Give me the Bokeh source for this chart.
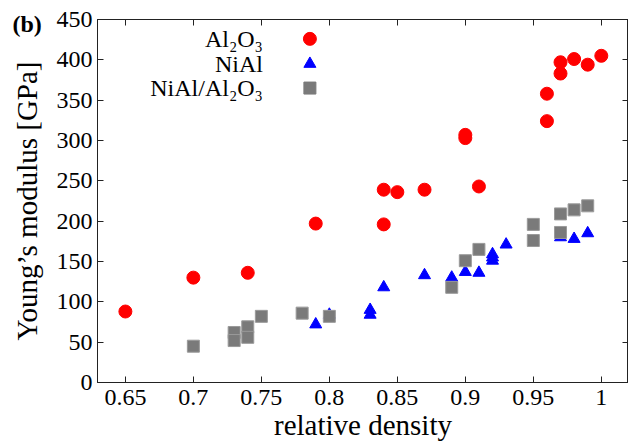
from bokeh.plotting import figure
from bokeh.models import LinearAxis, FixedTicker, Range1d, Label, Title
from bokeh.embed import file_html
from bokeh.resources import INLINE

# ---- data ----
al2o3_density = [0.65, 0.70, 0.74, 0.79, 0.84, 0.84, 0.85, 0.87, 0.90, 0.90, 0.91,
                 0.96, 0.96, 0.97, 0.97, 0.98, 0.99, 1.00]
al2o3_modulus = [88, 130, 136, 197, 239, 196, 236, 239, 307, 303, 243,
                 358, 324, 397, 383, 401, 394, 405]

nial_density = [0.79, 0.80, 0.83, 0.83, 0.84, 0.87, 0.89, 0.90, 0.91, 0.92, 0.92, 0.92,
                0.93, 0.97, 0.98, 0.99]
nial_modulus = [72, 84, 90, 84, 118, 133, 130, 137, 136, 159, 155, 151,
                171, 180, 178, 185]

comp_density = [0.70, 0.73, 0.73, 0.74, 0.74, 0.75, 0.78, 0.80, 0.89, 0.90, 0.91,
                0.95, 0.95, 0.97, 0.97, 0.98, 0.99]
comp_modulus = [45, 62, 52, 69, 56, 82, 86, 82, 118, 151, 165,
                196, 176, 209, 186, 214, 219]

x_ticks = [0.65, 0.70, 0.75, 0.80, 0.85, 0.90, 0.95, 1.00]
x_tick_labels = ["0.65", "0.7", "0.75", "0.8", "0.85", "0.9", "0.95", "1"]
y_ticks = [0, 50, 100, 150, 200, 250, 300, 350, 400, 450]

series_names = ["Al\u2082O\u2083", "NiAl", "NiAl/Al\u2082O\u2083"]
series_colors = ["#ff0000", "#0000ff", "#7a7a7a"]

FONT = "Liberation Serif"
AXIS_COLOR = "#222222"

p = figure(width=628, height=445, output_backend="svg", toolbar_location=None,
           x_range=Range1d(0.6295, 1.02), y_range=Range1d(0, 450),
           x_axis_label="relative density", y_axis_label="Young\u2019s modulus [GPa]",
           min_border_left=97, min_border_top=19, min_border_right=0,
           min_border_bottom=63)

p.grid.visible = False
p.outline_line_color = AXIS_COLOR
p.outline_line_width = 1
p.background_fill_color = "white"
p.border_fill_color = "white"

p.xaxis.ticker = FixedTicker(ticks=x_ticks)
p.yaxis.ticker = FixedTicker(ticks=y_ticks)
p.xaxis.major_label_overrides = {t: l for t, l in zip(x_ticks, x_tick_labels)}

for ax in (p.xaxis[0], p.yaxis[0]):
    ax.major_tick_in = 6
    ax.major_tick_out = 0
    ax.minor_tick_in = 0
    ax.minor_tick_out = 0
    ax.axis_line_color = AXIS_COLOR
    ax.major_tick_line_color = AXIS_COLOR
    ax.major_label_text_font = FONT
    ax.major_label_text_font_size = "24px"
    ax.major_label_text_color = "black"
    ax.axis_label_text_font = FONT
    ax.axis_label_text_font_size = "29px"
    ax.axis_label_text_font_style = "normal"
    ax.axis_label_text_color = "black"

p.xaxis.major_label_standoff = 7
p.xaxis.axis_label_standoff = 1
p.yaxis.major_label_standoff = 5
p.yaxis.axis_label_standoff = 11

# mirrored ticks on top and right (no labels)
top = LinearAxis(ticker=FixedTicker(ticks=x_ticks))
right = LinearAxis(ticker=FixedTicker(ticks=y_ticks))
for ax in (top, right):
    ax.major_tick_in = 6
    ax.major_tick_out = 0
    ax.minor_tick_in = 0
    ax.minor_tick_out = 0
    ax.axis_line_color = AXIS_COLOR
    ax.major_tick_line_color = AXIS_COLOR
    ax.major_label_text_font_size = "0px"
    ax.major_label_text_color = None
    ax.major_label_standoff = 0
p.add_layout(top, "above")
p.add_layout(right, "right")

# data
p.scatter(al2o3_density, al2o3_modulus, marker="circle", size=13,
          fill_color=series_colors[0], line_color=series_colors[0])
p.scatter(nial_density, nial_modulus, marker="triangle", size=12,
          fill_color=series_colors[1], line_color=series_colors[1])
p.scatter(comp_density, comp_modulus, marker="square", size=12,
          fill_color=series_colors[2], line_color="#9a9a9a")

# legend (text at left, marker at right)
leg_text_x = 0.7512
leg_mark_x = 0.7857
leg_y = [426, 395, 365]
markers = ["circle", "triangle", "square"]
sizes = [13, 12, 12]
for name, col, mk, sz, yy in zip(series_names, series_colors, markers, sizes, leg_y):
    p.add_layout(Label(x=leg_text_x, y=yy, text=name, text_align="right",
                       text_baseline="middle", text_font=FONT,
                       text_font_size="24px", text_color="black"))
    p.scatter([leg_mark_x], [yy], marker=mk, size=sz, fill_color=col,
              line_color=col)

# panel tag as a title pulled into the top-left corner
tag = Title(text="(b)", align="left", offset=-85, standoff=-34,
            vertical_align="bottom", text_font=FONT, text_font_size="24px",
            text_font_style="bold", text_color="black")
p.add_layout(tag, "above")

open("out.html", "w").write(file_html(p, INLINE))
